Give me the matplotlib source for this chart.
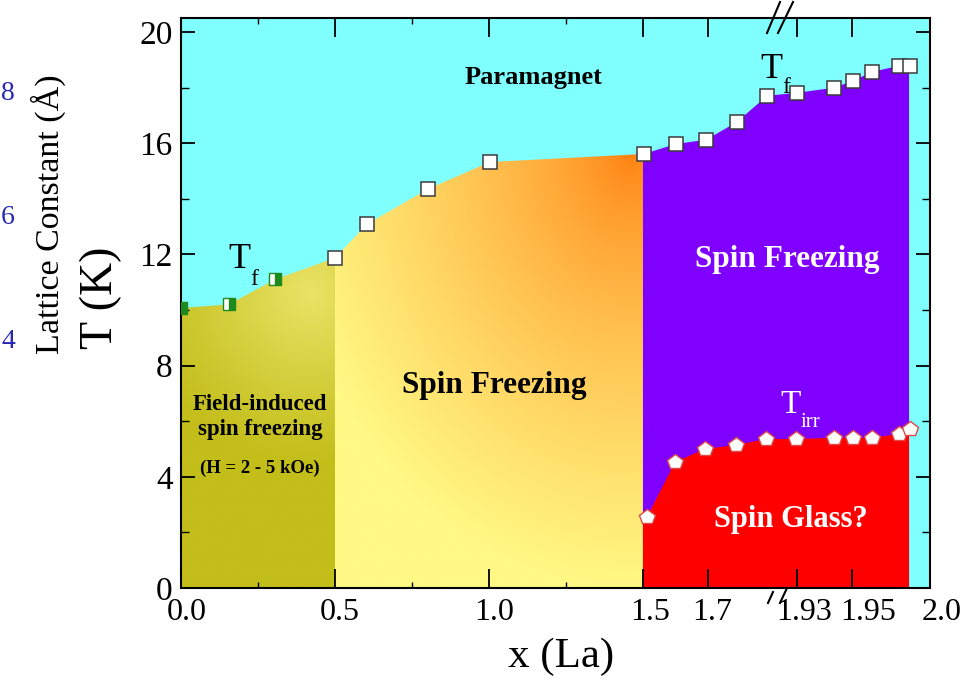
import numpy as np
import matplotlib
matplotlib.use('Agg')
import matplotlib.pyplot as plt
import matplotlib.transforms as mtransforms
from matplotlib.patches import Polygon
from matplotlib.lines import Line2D
from matplotlib.colors import to_rgb

plt.rcParams['font.family'] = ['Liberation Serif', 'DejaVu Serif']

# positions along the broken x axis and the labels printed there
tick_pos = [0.0, 0.5, 1.0, 1.5, 1.71, 2.0, 2.18, 2.432]
tick_labels = ['0.0', '0.5', '1.0', '1.5', '1.7', '1.93', '1.95', '2.0']
minor_pos = [0.25, 0.75, 1.25]

# T_f, field-induced points (half filled green squares)
tf_field_x = [0.0, 0.156, 0.305]
tf_field_T = [10.07, 10.2, 11.1]
# T_f, open squares
tf_x = [0.5, 0.604, 0.802, 1.003, 1.503, 1.607, 1.705, 1.805, 1.903, 2.0,
        2.12, 2.182, 2.244, 2.331, 2.367]
tf_T = [11.87, 13.09, 14.35, 15.32, 15.61, 15.97, 16.12, 16.76, 17.70, 17.81,
        17.99, 18.24, 18.56, 18.78, 18.78]
# T_irr, open pentagons
tirr_x = [1.513, 1.604, 1.701, 1.802, 1.899, 1.997, 2.12, 2.182, 2.244, 2.331, 2.367]
tirr_T = [2.55, 4.53, 5.0, 5.14, 5.36, 5.36, 5.40, 5.40, 5.40, 5.54, 5.72]

# phase boundaries along x
x_field_end = 0.5
x_sf_end = 1.5
x_end = 2.364

XMAX, YMAX = 2.432, 20.5

fig = plt.figure(figsize=(9.73, 6.92), dpi=100)
ax = fig.add_axes([181 / 973, 1 - 588 / 692, 749 / 973, 570 / 692])
PX_X = 749 / XMAX
PX_Y = 570 / YMAX

ax.set_facecolor('#80FFFF')

bx = np.array(tf_field_x + tf_x)
bT = np.array(tf_field_T + tf_T)


def radial_fill(poly, x0, x1, c_in, c_out, center, radius, power=1.0, yscale=1.0):
    xs = np.linspace(x0, x1, 300)
    ys = np.linspace(0, YMAX, 400)
    X, Y = np.meshgrid(xs, ys)
    d = np.hypot((X - center[0]) * PX_X, (Y - center[1]) * PX_Y * yscale) / radius
    t = np.clip(d, 0, 1) ** power
    rgb = (1 - t)[..., None] * np.array(to_rgb(c_in)) + t[..., None] * np.array(to_rgb(c_out))
    im = ax.imshow(rgb, extent=[x0, x1, 0, YMAX], origin='lower', aspect='auto',
                   zorder=1, interpolation='bilinear')
    patch = Polygon(poly, closed=True, fc='none', ec='none')
    ax.add_patch(patch)
    im.set_clip_path(patch)


# field-induced region
m = bx <= x_field_end
left_poly = [(0, 0)] + list(zip(bx[m], bT[m])) + [(x_field_end, 0)]
radial_fill(left_poly, 0, x_field_end, '#EAE468', '#C3BE1A', (0.42, 10.6), 170, 0.9)

# spin freezing (yellow-orange) region
m = (bx >= x_field_end) & (bx < x_sf_end)
T_sf = np.interp(x_sf_end, bx, bT)
mid_poly = [(x_field_end, 0)] + list(zip(bx[m], bT[m])) + [(x_sf_end, T_sf), (x_sf_end, 0)]
radial_fill(mid_poly, x_field_end, x_sf_end, '#FF7F10', '#FFF985', (1.46, 15.6), 350, 0.7,
            yscale=0.8)

# purple spin freezing region
m = (bx > x_sf_end) & (bx < x_end)
purple_poly = ([(x_sf_end, 0), (x_sf_end, T_sf)] + list(zip(bx[m], bT[m]))
               + [(x_end, np.interp(x_end, bx, bT)), (x_end, 0)])
ax.add_patch(Polygon(purple_poly, closed=True, fc='#7F00FF', ec='none', zorder=1.2))

# red spin glass region
tx = np.array(tirr_x)
tT = np.array(tirr_T)
slope = (tT[1] - tT[0]) / (tx[1] - tx[0])
T_start = tT[0] - slope * (tx[0] - x_sf_end)
m = tx < x_end
red_poly = ([(x_sf_end, 0), (x_sf_end, T_start)] + list(zip(tx[m], tT[m]))
            + [(x_end, np.interp(x_end, tx, tT) - 0.2), (x_end, 0)])
ax.add_patch(Polygon(red_poly, closed=True, fc='#FF0000', ec='none', zorder=1.3))

# markers
ax.plot(tf_field_x, tf_field_T, 's', ms=8.5, fillstyle='right', mfc='#1E8A1E',
        mfcalt='white', mec='#1E8A1E', mew=1, zorder=5)
ax.plot(tf_x, tf_T, 's', ms=9.5, mfc='white', mec='#3A3A3A', mew=1.1, zorder=5,
        clip_on=False)
ax.plot(tirr_x, tirr_T, 'p', ms=11.5, mfc='white', mec='#E04848', mew=1.0, zorder=5,
        clip_on=False)

ax.set_xlim(0, XMAX)
ax.set_ylim(0, YMAX)

# ticks
ax.set_xticks(tick_pos)
ax.set_xticklabels(tick_labels)
ax.set_xticks(minor_pos, minor=True)
ax.set_yticks([0, 4, 8, 12, 16, 20])
ax.set_yticks([2, 6, 10, 14, 18], minor=True)
ax.tick_params(axis='x', which='major', direction='in', length=14, width=1.3,
               labelsize=23, pad=7, top=True)
ax.tick_params(axis='x', which='minor', direction='in', length=4, width=1,
               top=True)
ax.tick_params(axis='y', which='major', direction='in', length=10, width=1.3,
               labelsize=24, pad=6, right=True)
ax.tick_params(axis='y', which='minor', direction='in', length=6, width=1,
               right=True)
ax.set_axisbelow(False)
for s in ax.spines.values():
    s.set_linewidth(1.5)

label_shift = [6, 5, 5, 7, 5, 7, 16, 12]
for lab, dx in zip(ax.get_xticklabels(), label_shift):
    lab.set_transform(lab.get_transform()
                      + mtransforms.ScaledTranslation(dx / 100, 0, fig.dpi_scale_trans))

# axis labels
fig.text(561 / 973, 1 - 657 / 692, 'x (La)', fontsize=31, ha='center', va='center')
fig.text(101 / 973, 1 - 298 / 692, 'T (K)', fontsize=33, ha='center', va='center',
         rotation=90)
fig.text(48 / 973, 1 - 214 / 692, 'Lattice Constant (Å)', fontsize=24.5,
         ha='center', va='center', rotation=90)
for val, ypx in zip(['8', '6', '4'], [93, 217, 342]):
    fig.text(8 / 973, 1 - ypx / 692, val, fontsize=20, color='#2828B4',
             ha='center', va='center')

# annotations
ax.text(1.143, 18.35, 'Paramagnet', fontsize=19, fontweight='bold',
        ha='center', va='center', zorder=6)
ax.text(1.016, 7.3, 'Spin Freezing', fontsize=22.5, fontweight='bold',
        ha='center', va='center', zorder=6)
ax.text(1.97, 11.8, 'Spin Freezing', fontsize=22.5, fontweight='bold',
        color='white', ha='center', va='center', zorder=6)
ax.text(1.98, 2.45, 'Spin Glass?', fontsize=22, fontweight='bold',
        color='white', ha='center', va='center', zorder=6)
ax.text(0.256, 6.15, 'Field-induced\nspin freezing', fontsize=16.5,
        fontweight='bold', ha='center', va='center', linespacing=1.3, zorder=6)
ax.text(0.256, 4.3, '(H = 2 - 5 kOe)', fontsize=13.5, fontweight='bold',
        ha='center', va='center', zorder=6)

ax.text(0.153, 11.5, 'T', fontsize=26, ha='left', va='baseline', zorder=6)
ax.text(0.224, 10.9, 'f', fontsize=17, ha='left', va='baseline', zorder=6)
ax.text(1.88, 18.35, 'T', fontsize=26, ha='left', va='baseline', zorder=6)
ax.text(1.951, 17.8, 'f', fontsize=17, ha='left', va='baseline', zorder=6)
ax.text(1.945, 6.3, 'T', fontsize=24, color='white', ha='left', va='baseline', zorder=6)
ax.text(2.012, 5.79, 'irr', fontsize=15, color='white', ha='left', va='baseline', zorder=6)

# axis break marks
breaks = [((767, 33), (780, 2)), ((778, 33), (793, 2)),
          ((768, 603), (773, 592)), ((780, 603), (787, 588))]
for (xa, ya), (xb, yb) in breaks:
    fig.add_artist(Line2D([xa / 973, xb / 973], [1 - ya / 692, 1 - yb / 692],
                          color='black', lw=1.5))

fig.savefig('out.png', dpi=100)
